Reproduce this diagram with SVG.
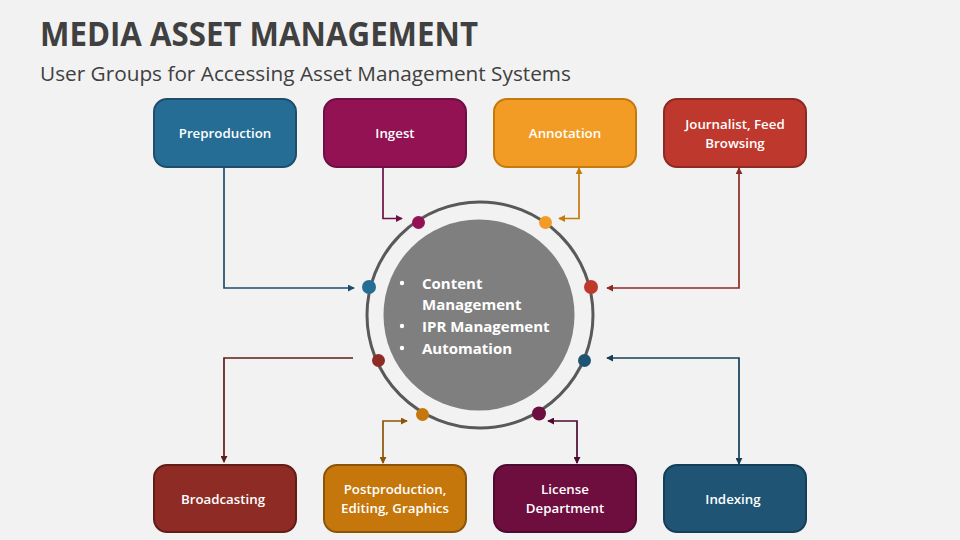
<svg xmlns="http://www.w3.org/2000/svg" width="960" height="540" viewBox="0 0 960 540">
<style>
text{font-family:"Open Sans","Noto Sans","Liberation Sans",sans-serif}
.t{font-size:34px;font-weight:700;fill:#404040}
.s{font-size:20px;fill:#404040}
.n rect{stroke-width:2}
.l{font-size:13.300px;font-weight:600;fill:#fff;text-anchor:middle}
.c{font-size:15px;font-weight:700;fill:#fff}
.w{fill:none;stroke-width:1.700}
</style>
<defs>
<marker id="a1" viewBox="0 0 8 8" refX="7" refY="4" markerWidth="7" markerHeight="7" markerUnits="userSpaceOnUse" orient="auto-start-reverse"><path d="M0 0L8 4L0 8Z" fill="#1f4e6b"/></marker>
<marker id="a2" viewBox="0 0 8 8" refX="7" refY="4" markerWidth="7" markerHeight="7" markerUnits="userSpaceOnUse" orient="auto-start-reverse"><path d="M0 0L8 4L0 8Z" fill="#6e1044"/></marker>
<marker id="a3" viewBox="0 0 8 8" refX="7" refY="4" markerWidth="7" markerHeight="7" markerUnits="userSpaceOnUse" orient="auto-start-reverse"><path d="M0 0L8 4L0 8Z" fill="#c57a0c"/></marker>
<marker id="a4" viewBox="0 0 8 8" refX="7" refY="4" markerWidth="7" markerHeight="7" markerUnits="userSpaceOnUse" orient="auto-start-reverse"><path d="M0 0L8 4L0 8Z" fill="#8c2a24"/></marker>
<marker id="a5" viewBox="0 0 8 8" refX="7" refY="4" markerWidth="7" markerHeight="7" markerUnits="userSpaceOnUse" orient="auto-start-reverse"><path d="M0 0L8 4L0 8Z" fill="#153f58"/></marker>
<marker id="a6" viewBox="0 0 8 8" refX="7" refY="4" markerWidth="7" markerHeight="7" markerUnits="userSpaceOnUse" orient="auto-start-reverse"><path d="M0 0L8 4L0 8Z" fill="#4d0b32"/></marker>
<marker id="a7" viewBox="0 0 8 8" refX="7" refY="4" markerWidth="7" markerHeight="7" markerUnits="userSpaceOnUse" orient="auto-start-reverse"><path d="M0 0L8 4L0 8Z" fill="#8a5509"/></marker>
<marker id="a8" viewBox="0 0 8 8" refX="7" refY="4" markerWidth="7" markerHeight="7" markerUnits="userSpaceOnUse" orient="auto-start-reverse"><path d="M0 0L8 4L0 8Z" fill="#621d19"/></marker>
</defs>
<rect width="960" height="540" fill="#f2f2f2"/>
<text class="t" x="40" y="46" textLength="438" lengthAdjust="spacingAndGlyphs">MEDIA ASSET MANAGEMENT</text>
<text class="s" x="40" y="81" textLength="531" lengthAdjust="spacingAndGlyphs">User Groups for Accessing Asset Management Systems</text>
<g id="connectors">
<path class="w" stroke="#1f4e6b" marker-end="url(#a1)" d="M224 167V288H354"/>
<path class="w" stroke="#6e1044" marker-end="url(#a2)" d="M383 167V218.500H402"/>
<path class="w" stroke="#c57a0c" marker-start="url(#a3)" marker-end="url(#a3)" d="M579 168V218.500H559"/>
<path class="w" stroke="#8c2a24" marker-start="url(#a4)" marker-end="url(#a4)" d="M739 168V288H607"/>
<path class="w" stroke="#153f58" marker-start="url(#a5)" marker-end="url(#a5)" d="M739 464V358H607"/>
<path class="w" stroke="#4d0b32" marker-start="url(#a6)" marker-end="url(#a6)" d="M577 463V421H548"/>
<path class="w" stroke="#8a5509" marker-start="url(#a7)" marker-end="url(#a7)" d="M383 463V421H407"/>
<path class="w" stroke="#621d19" marker-end="url(#a8)" d="M353 358H224V462"/>
</g>
<g id="hub">
<circle cx="480" cy="315" r="113" fill="none" stroke="#595959" stroke-width="3"/>
<circle cx="479" cy="315" r="95.500" fill="#7f7f7f"/>
<circle cx="402" cy="283" r="2.200" fill="#fff"/>
<circle cx="402" cy="326" r="2.200" fill="#fff"/>
<circle cx="402" cy="348" r="2.200" fill="#fff"/>
<text class="c" x="422" y="289">Content</text>
<text class="c" x="422" y="310">Management</text>
<text class="c" x="422" y="332">IPR Management</text>
<text class="c" x="422" y="354">Automation</text>
</g>
<g id="dots">
<circle cx="369" cy="287" r="7" fill="#266d95"/>
<circle cx="418.500" cy="222.500" r="6.500" fill="#921254"/>
<circle cx="545.500" cy="222.500" r="6.500" fill="#f39c25"/>
<circle cx="591" cy="287" r="7" fill="#bf382d"/>
<circle cx="584.500" cy="360.500" r="6.500" fill="#1f5475"/>
<circle cx="539" cy="413.500" r="7" fill="#6e0e3f"/>
<circle cx="422.500" cy="414.500" r="6.500" fill="#c5770b"/>
<circle cx="378.500" cy="360.500" r="6.500" fill="#8e2b25"/>
</g>
<g id="n1" class="n"><rect x="154" y="99" width="142" height="68" rx="13" fill="#266d95" stroke="#1f4e6b"/><text class="l" x="225" y="138">Preproduction</text></g>
<g id="n2" class="n"><rect x="324" y="99" width="142" height="68" rx="13" fill="#921254" stroke="#6e1044"/><text class="l" x="395" y="138">Ingest</text></g>
<g id="n3" class="n"><rect x="494" y="99" width="142" height="68" rx="13" fill="#f39c25" stroke="#c57a0c"/><text class="l" x="565" y="138">Annotation</text></g>
<g id="n4" class="n"><rect x="664" y="99" width="142" height="68" rx="13" fill="#bf382d" stroke="#8c2a24"/><text class="l" x="735" y="129">Journalist, Feed</text><text class="l" x="735" y="148">Browsing</text></g>
<g id="n5" class="n"><rect x="154" y="465" width="142" height="67" rx="13" fill="#8e2b25" stroke="#621d19"/><text class="l" x="223" y="504">Broadcasting</text></g>
<g id="n6" class="n"><rect x="324" y="465" width="142" height="67" rx="13" fill="#c5770b" stroke="#8a5509"/><text class="l" x="395" y="494">Postproduction,</text><text class="l" x="395" y="513">Editing, Graphics</text></g>
<g id="n7" class="n"><rect x="494" y="465" width="142" height="67" rx="13" fill="#6e0e3f" stroke="#4d0b32"/><text class="l" x="565" y="494">License</text><text class="l" x="565" y="513">Department</text></g>
<g id="n8" class="n"><rect x="664" y="465" width="142" height="67" rx="13" fill="#1f5475" stroke="#153f58"/><text class="l" x="733" y="504">Indexing</text></g>
</svg>
